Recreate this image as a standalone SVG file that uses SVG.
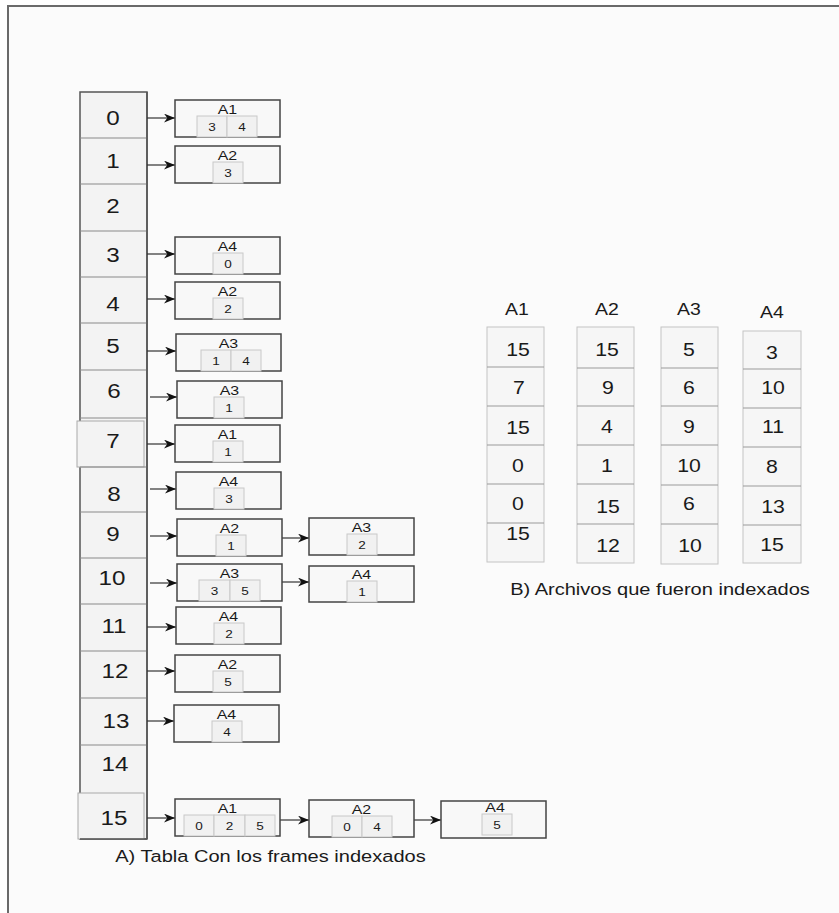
<svg xmlns="http://www.w3.org/2000/svg" width="839" height="913" viewBox="0 0 839 913">
<style>
text{font-family:"Liberation Sans",Arial,sans-serif;fill:#1a1a1a;text-anchor:middle;transform-box:fill-box;transform-origin:center;transform:scaleX(1.18)}
.idx{font-size:20.5px}
.tt{font-size:13.5px}
.cd{font-size:11.5px}
.hd{font-size:16.5px}
.vd{font-size:18px}
.cap{font-size:17px}
.node{fill:#f8f8f8;stroke:#444;stroke-width:1.5}
.cell{fill:#f1f1f1;stroke:#c8c8c8;stroke-width:1}
.row{stroke:#8a8a8a;stroke-width:1.2}
.vc{fill:#f6f6f6;stroke:#c4c4c4;stroke-width:1}
.vl{stroke:#9a9a9a;stroke-width:1}
.conn line{stroke:#333;stroke-width:1.2;marker-end:url(#ah)}
</style>
<defs>
<marker id="ah" viewBox="0 0 10 8" refX="10" refY="4" markerWidth="11" markerHeight="9" markerUnits="userSpaceOnUse" orient="auto">
<path d="M0,0 L10,4 L0,8 L3,4 z" fill="#111"/>
</marker>
</defs>
<rect x="0" y="0" width="839" height="913" fill="#ffffff"/>
<rect x="8" y="6" width="840" height="920" fill="#fbfbfb" stroke="#6a6a6a" stroke-width="2"/>

<g id="tabla">
<rect x="80" y="92" width="67" height="747" fill="#f3f3f3" stroke="#555" stroke-width="1.5"/>
<line class="row" x1="80" y1="138" x2="147" y2="138"/>
<line class="row" x1="80" y1="184" x2="147" y2="184"/>
<line class="row" x1="80" y1="231" x2="147" y2="231"/>
<line class="row" x1="80" y1="277" x2="147" y2="277"/>
<line class="row" x1="80" y1="323" x2="147" y2="323"/>
<line class="row" x1="80" y1="370" x2="147" y2="370"/>
<rect x="77" y="421" width="67" height="46" fill="#f3f3f3" stroke="#aaa" stroke-width="1"/>
<line class="row" x1="80" y1="418" x2="147" y2="418"/>
<line class="row" x1="80" y1="467" x2="147" y2="467"/>
<line class="row" x1="80" y1="512" x2="147" y2="512"/>
<line class="row" x1="80" y1="558" x2="147" y2="558"/>
<line class="row" x1="80" y1="604" x2="147" y2="604"/>
<line class="row" x1="80" y1="651" x2="147" y2="651"/>
<line class="row" x1="80" y1="698" x2="147" y2="698"/>
<line class="row" x1="80" y1="745" x2="147" y2="745"/>
<rect x="78" y="793" width="66" height="46" fill="#f3f3f3" stroke="#aaa" stroke-width="1"/>
<line x1="147" y1="92" x2="147" y2="839" stroke="#555" stroke-width="1.5"/>
<line x1="80" y1="839" x2="147" y2="839" stroke="#555" stroke-width="1.5"/>
<text class="idx" x="113" y="125">0</text>
<text class="idx" x="113" y="168">1</text>
<text class="idx" x="113" y="213">2</text>
<text class="idx" x="113" y="262">3</text>
<text class="idx" x="113" y="311">4</text>
<text class="idx" x="113" y="353">5</text>
<text class="idx" x="114" y="398">6</text>
<text class="idx" x="113" y="448">7</text>
<text class="idx" x="114" y="501">8</text>
<text class="idx" x="113" y="541">9</text>
<text class="idx" x="112" y="585">10</text>
<text class="idx" x="114" y="633">11</text>
<text class="idx" x="115" y="678">12</text>
<text class="idx" x="116" y="728">13</text>
<text class="idx" x="115" y="771">14</text>
<text class="idx" x="114" y="825">15</text>
</g>

<g class="conn" id="connectors">
<line x1="147" y1="118" x2="175" y2="118"/>
<line x1="147" y1="165" x2="175" y2="165"/>
<line x1="147" y1="254" x2="175" y2="254"/>
<line x1="147" y1="299" x2="175" y2="299"/>
<line x1="147" y1="351" x2="176" y2="351"/>
<line x1="150" y1="397" x2="177" y2="397"/>
<line x1="147" y1="444" x2="175" y2="444"/>
<line x1="150" y1="489" x2="176" y2="489"/>
<line x1="150" y1="536" x2="177" y2="536"/>
<line x1="282" y1="538" x2="309" y2="538"/>
<line x1="150" y1="583" x2="177" y2="583"/>
<line x1="282" y1="582" x2="309" y2="582"/>
<line x1="147" y1="627" x2="176" y2="627"/>
<line x1="147" y1="671" x2="175" y2="671"/>
<line x1="147" y1="721" x2="174" y2="721"/>
<line x1="147" y1="818" x2="175" y2="818"/>
<line x1="280" y1="820" x2="309" y2="820"/>
<line x1="414" y1="820" x2="441" y2="820"/>
</g>

<g id="n0"><rect class="node" x="175" y="100" width="105" height="37"/><rect class="cell" x="197" y="116" width="30" height="21"/><rect class="cell" x="227" y="116" width="30" height="21"/><text class="tt" x="227.5" y="114">A1</text><text class="cd" x="212" y="131.5">3</text><text class="cd" x="242" y="131.5">4</text></g>
<g id="n1"><rect class="node" x="175" y="146" width="105" height="37"/><rect class="cell" x="213" y="162" width="30" height="21"/><text class="tt" x="227.5" y="160">A2</text><text class="cd" x="228" y="177.5">3</text></g>
<g id="n3"><rect class="node" x="175" y="237" width="105" height="37"/><rect class="cell" x="213" y="253" width="30" height="21"/><text class="tt" x="227.5" y="251">A4</text><text class="cd" x="228" y="268.5">0</text></g>
<g id="n4"><rect class="node" x="175" y="282" width="105" height="37"/><rect class="cell" x="213" y="298" width="30" height="21"/><text class="tt" x="227.5" y="296">A2</text><text class="cd" x="228" y="313.5">2</text></g>
<g id="n5"><rect class="node" x="176" y="334" width="105" height="37"/><rect class="cell" x="201" y="350" width="30" height="21"/><rect class="cell" x="231" y="350" width="30" height="21"/><text class="tt" x="228.5" y="348">A3</text><text class="cd" x="216" y="365.5">1</text><text class="cd" x="246" y="365.5">4</text></g>
<g id="n6"><rect class="node" x="177" y="381" width="105" height="37"/><rect class="cell" x="214" y="397" width="30" height="21"/><text class="tt" x="229.5" y="395">A3</text><text class="cd" x="229" y="412.5">1</text></g>
<g id="n7"><rect class="node" x="175" y="425" width="105" height="37"/><rect class="cell" x="213" y="441" width="30" height="21"/><text class="tt" x="227.5" y="439">A1</text><text class="cd" x="228" y="456.5">1</text></g>
<g id="n8"><rect class="node" x="176" y="472" width="105" height="37"/><rect class="cell" x="214" y="488" width="30" height="21"/><text class="tt" x="228.5" y="486">A4</text><text class="cd" x="229" y="503.5">3</text></g>
<g id="n9a"><rect class="node" x="177" y="519" width="105" height="37"/><rect class="cell" x="216" y="535" width="30" height="21"/><text class="tt" x="229.5" y="533">A2</text><text class="cd" x="231" y="550.5">1</text></g>
<g id="n9b"><rect class="node" x="309" y="518" width="105" height="37"/><rect class="cell" x="347" y="534" width="30" height="21"/><text class="tt" x="361.5" y="532">A3</text><text class="cd" x="362" y="549.5">2</text></g>
<g id="n10a"><rect class="node" x="177" y="564" width="105" height="37"/><rect class="cell" x="199" y="580" width="31" height="21"/><rect class="cell" x="230" y="580" width="30" height="21"/><text class="tt" x="229.5" y="578">A3</text><text class="cd" x="214.5" y="595.5">3</text><text class="cd" x="245" y="595.5">5</text></g>
<g id="n10b"><rect class="node" x="309" y="566" width="105" height="36"/><rect class="cell" x="347" y="581" width="30" height="21"/><text class="tt" x="361.5" y="579">A4</text><text class="cd" x="362" y="596.5">1</text></g>
<g id="n11"><rect class="node" x="176" y="607" width="105" height="37"/><rect class="cell" x="214" y="623" width="30" height="21"/><text class="tt" x="228.5" y="621">A4</text><text class="cd" x="229" y="638.5">2</text></g>
<g id="n12"><rect class="node" x="175" y="655" width="105" height="37"/><rect class="cell" x="213" y="671" width="30" height="21"/><text class="tt" x="227.5" y="669">A2</text><text class="cd" x="228" y="686.5">5</text></g>
<g id="n13"><rect class="node" x="174" y="705" width="105" height="37"/><rect class="cell" x="212" y="721" width="30" height="21"/><text class="tt" x="226.5" y="719">A4</text><text class="cd" x="227" y="736.5">4</text></g>
<g id="n15a"><rect class="node" x="175" y="799" width="105" height="37"/><rect class="cell" x="184" y="815" width="30" height="21"/><rect class="cell" x="214" y="815" width="31" height="21"/><rect class="cell" x="245" y="815" width="30" height="21"/><text class="tt" x="227.5" y="813">A1</text><text class="cd" x="199" y="830.5">0</text><text class="cd" x="229.5" y="830.5">2</text><text class="cd" x="260" y="830.5">5</text></g>
<g id="n15b"><rect class="node" x="309" y="800" width="105" height="37"/><rect class="cell" x="332" y="816" width="30" height="21"/><rect class="cell" x="362" y="816" width="30" height="21"/><text class="tt" x="361.5" y="814">A2</text><text class="cd" x="347" y="831.5">0</text><text class="cd" x="377" y="831.5">4</text></g>
<g id="n15c"><rect class="node" x="441" y="801" width="105" height="37"/><rect class="cell" x="482" y="814" width="30" height="21"/><text class="tt" x="495" y="812">A4</text><text class="cd" x="497" y="829.5">5</text></g>

<text class="cap" x="270.5" y="862">A) Tabla Con los frames indexados</text>

<g id="archivos">
<g id="colA1">
<text class="hd" x="517" y="315">A1</text>
<rect class="vc" x="487" y="327" width="57" height="235"/>
<line class="vl" x1="487" y1="367" x2="544" y2="367"/>
<line class="vl" x1="487" y1="406" x2="544" y2="406"/>
<line class="vl" x1="487" y1="445" x2="544" y2="445"/>
<line class="vl" x1="487" y1="484" x2="544" y2="484"/>
<line class="vl" x1="487" y1="523" x2="544" y2="523"/>
<text class="vd" x="518" y="356">15</text>
<text class="vd" x="519" y="394">7</text>
<text class="vd" x="518" y="434">15</text>
<text class="vd" x="518" y="472">0</text>
<text class="vd" x="518" y="510">0</text>
<text class="vd" x="518" y="540">15</text>
</g>
<g id="colA2">
<text class="hd" x="607" y="315">A2</text>
<rect class="vc" x="577" y="327" width="57" height="236"/>
<line class="vl" x1="577" y1="368" x2="634" y2="368"/>
<line class="vl" x1="577" y1="406" x2="634" y2="406"/>
<line class="vl" x1="577" y1="445" x2="634" y2="445"/>
<line class="vl" x1="577" y1="484" x2="634" y2="484"/>
<line class="vl" x1="577" y1="524" x2="634" y2="524"/>
<text class="vd" x="607" y="356">15</text>
<text class="vd" x="608" y="394">9</text>
<text class="vd" x="607" y="433">4</text>
<text class="vd" x="607" y="472">1</text>
<text class="vd" x="608" y="513">15</text>
<text class="vd" x="608" y="552">12</text>
</g>
<g id="colA3">
<text class="hd" x="689" y="315">A3</text>
<rect class="vc" x="661" y="327" width="57" height="237"/>
<line class="vl" x1="661" y1="368" x2="718" y2="368"/>
<line class="vl" x1="661" y1="406" x2="718" y2="406"/>
<line class="vl" x1="661" y1="445" x2="718" y2="445"/>
<line class="vl" x1="661" y1="485" x2="718" y2="485"/>
<line class="vl" x1="661" y1="524" x2="718" y2="524"/>
<text class="vd" x="689" y="356">5</text>
<text class="vd" x="689" y="394">6</text>
<text class="vd" x="689" y="433">9</text>
<text class="vd" x="689" y="472">10</text>
<text class="vd" x="689" y="510">6</text>
<text class="vd" x="690" y="552">10</text>
</g>
<g id="colA4">
<text class="hd" x="772" y="318">A4</text>
<rect class="vc" x="743" y="331" width="58" height="232"/>
<line class="vl" x1="743" y1="369" x2="801" y2="369"/>
<line class="vl" x1="743" y1="408" x2="801" y2="408"/>
<line class="vl" x1="743" y1="447" x2="801" y2="447"/>
<line class="vl" x1="743" y1="486" x2="801" y2="486"/>
<line class="vl" x1="743" y1="525" x2="801" y2="525"/>
<text class="vd" x="772" y="359">3</text>
<text class="vd" x="773" y="394">10</text>
<text class="vd" x="773" y="433">11</text>
<text class="vd" x="772" y="473">8</text>
<text class="vd" x="773" y="513">13</text>
<text class="vd" x="772" y="551">15</text>
</g>
</g>

<text class="cap" x="660" y="595">B) Archivos que fueron indexados</text>
</svg>
